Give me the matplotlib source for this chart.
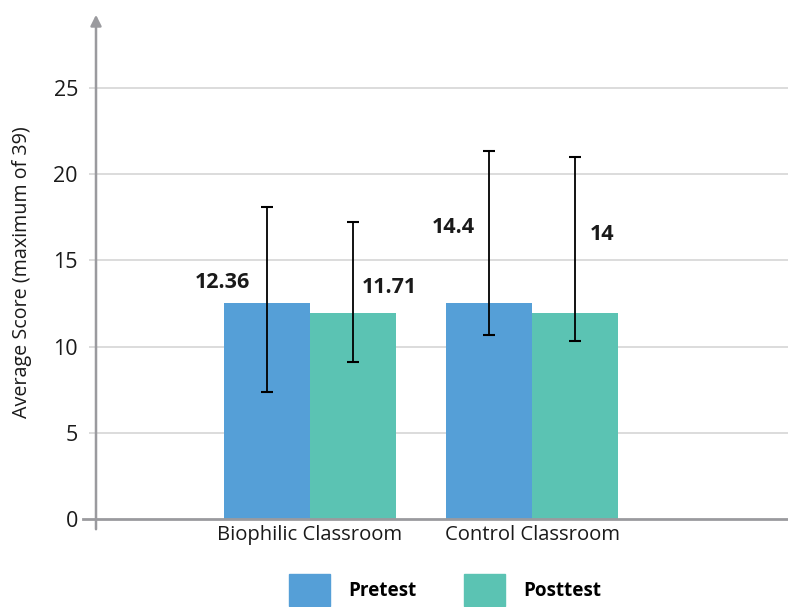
import numpy as np
import matplotlib.pyplot as plt
from matplotlib.patches import Patch

# data
groups = ['Biophilic Classroom', 'Control Classroom']
series = ['Pretest', 'Posttest']
pretest = [12.53, 12.53]
posttest = [11.95, 11.95]
pre_err_low = [7.37, 10.69]
pre_err_high = [18.12, 21.35]
post_err_low = [9.11, 10.34]
post_err_high = [17.23, 21.02]
pre_labels = ['12.36', '14.4']
post_labels = ['11.71', '14']
yticks = [0, 5, 10, 15, 20, 25]

plt.rcParams['font.family'] = ['Open Sans', 'DejaVu Sans']

pre_color = '#559fd7'
post_color = '#5bc3b3'
axis_gray = '#9a9a9e'
grid_gray = '#d9d9d9'
text_color = '#1a1a1a'

W, H = 788, 607
fig = plt.figure(figsize=(W / 100, H / 100), dpi=100)
ax = fig.add_axes([96 / W, 1 - 519 / H, 692 / W, 507 / H])

x = np.arange(len(groups))
w = 0.387
pre = np.array(pretest)
post = np.array(posttest)

ax.bar(x - w / 2, pre, w, color=pre_color, zorder=2)
ax.bar(x + w / 2, post, w, color=post_color, zorder=2)

ax.errorbar(x - w / 2, pre, yerr=[pre - np.array(pre_err_low), np.array(pre_err_high) - pre],
            fmt='none', ecolor='black', elinewidth=1.3, capsize=4.5, capthick=1.5, zorder=3)
ax.errorbar(x + w / 2, post, yerr=[post - np.array(post_err_low), np.array(post_err_high) - post],
            fmt='none', ecolor='black', elinewidth=1.3, capsize=4.5, capthick=1.5, zorder=3)

# value labels sit beside the error bars, like in the original
pre_lab_pos = [(-0.395, 13.7), (0.645, 16.9)]
post_lab_pos = [(0.356, 13.45), (1.315, 16.5)]
for (lx, ly), t in zip(pre_lab_pos, pre_labels):
    ax.text(lx, ly, t, ha='center', va='center', fontsize=15.5, fontweight='bold', color=text_color)
for (lx, ly), t in zip(post_lab_pos, post_labels):
    ax.text(lx, ly, t, ha='center', va='center', fontsize=15.5, fontweight='bold', color=text_color)

ax.set_xlim(-0.964, 2.153)
ax.set_ylim(0, 29.4)
ax.set_xticks(x)
ax.set_xticklabels(groups, fontsize=14.6, color=text_color)
ax.set_yticks(yticks)
ax.set_yticklabels([str(v) for v in yticks], fontsize=15.5, color=text_color)
ax.tick_params(axis='x', length=0, pad=4)
ax.tick_params(axis='y', length=0, pad=13)

for s in ax.spines.values():
    s.set_visible(False)

# gridlines
ax.hlines(yticks[1:], -7 / 692, 1, transform=ax.get_yaxis_transform(),
          color=grid_gray, lw=1.3, clip_on=False, zorder=0)

# axis lines
ax.plot([-13 / 692, 1], [0, 0], transform=ax.transAxes, color=axis_gray, lw=2, clip_on=False, zorder=4)
ax.annotate('', xy=(0, 1.0), xycoords='axes fraction', xytext=(0, -13 / 507),
            arrowprops=dict(arrowstyle='-|>', color=axis_gray, lw=1.8, mutation_scale=16),
            annotation_clip=False)

fig.text(22 / W, 1 - 272 / H, 'Average Score (maximum of 39)', rotation=90,
         ha='center', va='center', fontsize=14.2, color=text_color)

handles = [Patch(color=pre_color, label=series[0]), Patch(color=post_color, label=series[1])]
fig.legend(handles=handles, loc='center', bbox_to_anchor=(445 / W, 1 - 590 / H), ncol=2,
           frameon=False, prop={'size': 13.6, 'weight': 'bold'},
           handlelength=2.2, handleheight=2.2, handletextpad=0.95, columnspacing=2.5)

fig.savefig('out.png', dpi=100)
